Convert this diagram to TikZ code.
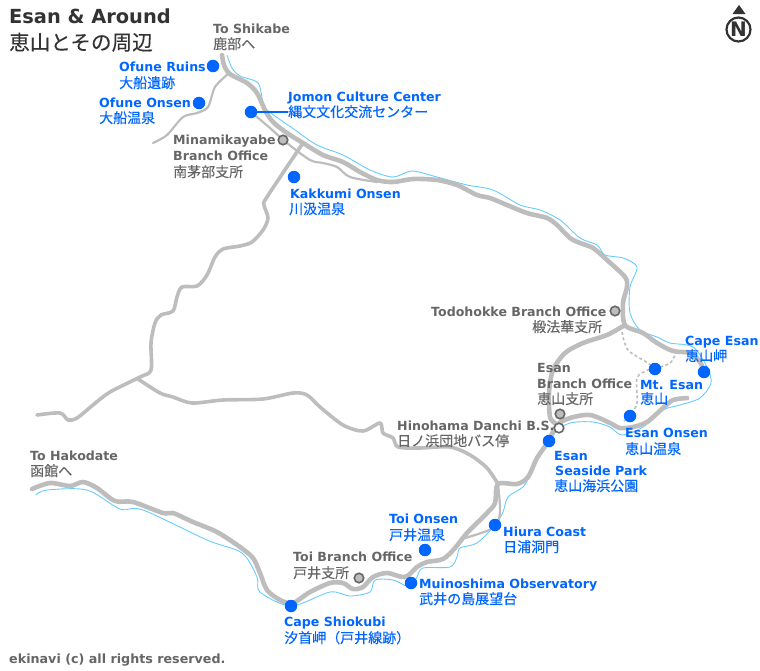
\documentclass[tikz,border=0pt]{standalone}
\usepackage{fontspec}
\setmainfont{DejaVu Sans}
\newfontfamily\jpfont[FakeBold=0.25]{Noto Sans CJK JP}
\definecolor{roadgray}{HTML}{BDBDBD}
\definecolor{coastblue}{HTML}{66CCFF}
\definecolor{spotblue}{HTML}{0066FF}
\definecolor{labelgray}{HTML}{666666}
\definecolor{titlegray}{HTML}{333333}
\tikzset{
  mainroad/.style={draw=roadgray,line width=4.6pt,line cap=round,line join=round},
  midroad/.style={draw=roadgray,line width=3.6pt,line cap=round,line join=round},
  thinroad/.style={draw=roadgray,line width=2.2pt,line cap=round,line join=round},
  trail/.style={draw=roadgray,line width=1.6pt,dash pattern=on 3pt off 2.5pt},
  coast/.style={draw=coastblue,line width=.9pt,line join=round},
  spot/.style={circle,fill=spotblue,minimum size=12.5pt,inner sep=0pt},
  office/.style={circle,fill=roadgray,draw=labelgray,line width=1.6pt,minimum size=9.5pt,inner sep=0pt},
  stopmark/.style={circle,fill=white,draw=labelgray,line width=1.6pt,minimum size=9.5pt,inner sep=0pt},
  bl/.style={anchor=base west,inner sep=0pt,text=spotblue,font=\fontsize{12.6}{12.6}\selectfont\bfseries},
  bj/.style={anchor=base west,inner sep=0pt,text=spotblue,font=\fontsize{14}{14}\selectfont\jpfont},
  gl/.style={anchor=base west,inner sep=0pt,text=labelgray,font=\fontsize{12.6}{12.6}\selectfont\bfseries},
  gj/.style={anchor=base west,inner sep=0pt,text=labelgray,font=\fontsize{14}{14}\selectfont\jpfont},
}
\begin{document}
\begin{tikzpicture}[x=1pt,y=-1pt]
\useasboundingbox (0,0) rectangle (760,670);
% coast
\draw[coast] plot[smooth,tension=.5] coordinates {(227,55)(232,68)(240,76)(258,83)(263,103)(267,110)(295,130)(317,145)(343,155)(370,170)(393,177)(412,171)(437,177)(467,185)(493,190)(520,205)(540,210)(560,220)(580,238)(597,245)(605,255)(623,258)(637,267)(630,287)(630,313)(640,330)(657,337)(670,343)(693,347)(707,367)(711,383)(700,398)(680,405)(663,410)(643,427)(622,435)(610,427)(593,422)(570,423)(555,433)(537,460)(530,475)(523,487)(508,497)(503,512)(495,525)(477,543)(460,548)(457,557)(450,567)(423,568)(417,577)(410,587)(393,580)(375,580)(370,592)(350,596)(330,592)(291,606)(260,592)(257,577)(242,553)(207,540)(143,510)(120,509)(87,490)(47,490)(36,495)};
% thin roads
\draw[thinroad] plot[smooth,tension=.5] coordinates {(228,74)(215,87)(208,107)(197,113)(183,117)(167,135)(153,143)};
\draw[thinroad] plot[smooth,tension=.5] coordinates {(251,112)(270,128)(287,143)(310,160)(323,163)(337,167)(350,177)(377,182)};
\draw[thinroad] plot[smooth,tension=.5] coordinates {(498,484)(500,513)(493,528)(465,538)};
% mid roads
\draw[midroad] plot[smooth,tension=.5] coordinates {(303,143)(267,197)(264,205)(268,218)(263,230)(252,242)(240,246)(223,249)(215,257)(207,275)(197,286)(182,287)(177,297)(173,311)(161,315)(155,323)(151,343)(151,370)(140,377)(110,392)(93,405)(77,418)(68,420)(60,413)(37,415)};
\draw[midroad] plot[smooth,tension=.5] coordinates {(138,379)(160,393)(173,397)(192,403)(223,400)(263,399)(293,393)(307,395)(320,407)(343,425)(363,431)(380,423)(383,433)(393,438)(398,447)(420,448)(450,447)(470,455)(487,468)(498,484)};
% main roads
\draw[mainroad] plot[smooth,tension=.5] coordinates {(222,55)(224,65)(230,74)(247,83)(257,93)(265,110)(273,122)(287,133)(303,143)(323,155)(343,162)(360,172)(377,180)(393,182)(413,179)(437,180)(457,185)(477,195)(490,198)(507,205)(527,213)(547,218)(557,225)(570,238)(580,243)(593,248)(607,260)(625,277)(627,287)(623,303)(625,325)(643,333)(657,343)(673,351)(690,353)(700,362)(704,372)};
\draw[mainroad] plot[smooth,tension=.5] coordinates {(625,325)(607,335)(583,343)(565,353)(553,370)(549,393)(550,417)(555,423)};
\draw[mainroad] plot[smooth,tension=.5] coordinates {(687,398)(673,400)(663,408)(647,422)(633,427)(620,428)(610,423)(590,415)(570,418)(557,425)(548,442)(537,458)(528,477)(517,484)(498,484)(495,503)(487,513)(467,533)(455,548)(443,559)(427,562)(417,567)(405,577)(387,573)(373,577)(363,587)(353,589)(343,583)(330,583)(310,592)(293,603)(280,600)(267,590)(260,573)(253,558)(240,547)(217,532)(193,522)(173,513)(163,513)(133,502)(115,501)(97,488)(83,482)(70,486)(50,483)(32,489)};
% trails
\draw[trail] plot[smooth,tension=.5] coordinates {(622,332)(628,350)(648,363)(655,369)};
\draw[trail] plot[smooth,tension=.5] coordinates {(655,369)(670,363)(675,355)};
\draw[trail] plot[smooth,tension=.5] coordinates {(655,369)(648,370)(637,378)(637,403)(630,416)(622,422)};
% spots
\node[spot] (ofuneruins) at (213,66) {};
\node[spot] (ofuneonsen) at (199,103) {};
\node[spot] (jomon) at (251,112) {};
\node[spot] (kakkumi) at (294,177) {};
\node[office] (minami) at (283,140) {};
\node[office] (todo) at (615,311) {};
\node[office] (esanbranch) at (560,414) {};
\node[stopmark] (hinohama) at (559,428) {};
\node[spot] (seaside) at (549,441) {};
\node[spot] (mtesan) at (655,369) {};
\node[spot] (capeesan) at (704,372) {};
\node[spot] (esanonsen) at (630,416) {};
\node[spot] (hiura) at (495,525) {};
\node[spot] (toionsen) at (425,550) {};
\node[office] (toibranch) at (359,578) {};
\node[spot] (muino) at (411,583) {};
\node[spot] (shiokubi) at (291,606) {};
% title
\node[anchor=base west,inner sep=0pt,text=titlegray,font=\fontsize{19.4}{19.4}\selectfont\bfseries] (title) at (9,23) {Esan \& Around};
\node[anchor=base west,inner sep=0pt,text=titlegray,font=\fontsize{20.6}{20.6}\selectfont\jpfont] (titlejp) at (9,50) {恵山とその周辺};
% labels
\node[gl] (t1) at (213,33) {To Shikabe};
\node[gj] (t2) at (213,49) {鹿部へ};
\node[bl] (t3) at (119,71) {Ofune Ruins};
\node[bj] (t4) at (119,88) {大船遺跡};
\node[bl] (t5) at (99,107) {Ofune Onsen};
\node[bj] (t6) at (99,123) {大船温泉};
\node[bl] (t7) at (288,101) {Jomon Culture Center};
\node[bj] (t8) at (288,117) {縄文文化交流センター};
\node[gl] (t9) at (173,144) {Minamikayabe};
\node[gl] (t10) at (173,160) {Branch Office};
\node[gj] (t11) at (173,177) {南茅部支所};
\node[bl] (t12) at (290,198) {Kakkumi Onsen};
\node[bj] (t13) at (289,214) {川汲温泉};
\node[gl] (t14) at (431,316) {Todohokke Branch Office};
\node[gj] (t15) at (532,332) {椴法華支所};
\node[gl] (t16) at (537,372) {Esan};
\node[gl] (t17) at (537,388) {Branch Office};
\node[gj] (t18) at (537,404) {恵山支所};
\node[gl] (t19) at (397,430) {Hinohama Danchi B.S.};
\node[gj] (t20) at (397,446) {日ノ浜団地バス停};
\node[bl] (t21) at (554,460) {Esan};
\node[bl] (t22) at (555,475) {Seaside Park};
\node[bj] (t23) at (554,491) {恵山海浜公園};
\node[bl] (t24) at (640,389) {Mt. Esan};
\node[bj] (t25) at (640,404) {恵山};
\node[bl] (t26) at (685,345) {Cape Esan};
\node[bj] (t27) at (685,361) {恵山岬};
\node[bl] (t28) at (625,437) {Esan Onsen};
\node[bj] (t29) at (625,454) {恵山温泉};
\node[bl] (t30) at (503,536) {Hiura Coast};
\node[bj] (t31) at (503,552) {日浦洞門};
\node[bl] (t32) at (389,523) {Toi Onsen};
\node[bj] (t33) at (389,540) {戸井温泉};
\node[gl] (t34) at (293,561) {Toi Branch Office};
\node[gj] (t35) at (293,578) {戸井支所};
\node[bl] (t36) at (419,588) {Muinoshima Observatory};
\node[bj] (t37) at (419,604) {武井の島展望台};
\node[bl] (t38) at (284,626) {Cape Shiokubi};
\node[bj] (t39) at (284,643) {汐首岬（戸井線跡）};
\node[gl] (t40) at (30,460) {To Hakodate};
\node[gj] (t41) at (30,476) {函館へ};
\node[anchor=base west,inner sep=0pt,text=labelgray,font=\fontsize{12.7}{12.7}\selectfont\bfseries] (t42) at (9,663) {ekinavi (c) all rights reserved.};
% connector
\draw[spotblue,line width=1.5pt] (jomon) -- (t8.west |- jomon);
% north mark
\fill[titlegray] (739,5) -- (732.5,14) -- (745.5,14) -- cycle;
\node[circle,draw=titlegray,line width=2.2pt,minimum size=24pt,inner sep=0pt,text=titlegray,font=\fontsize{20}{20}\selectfont\bfseries] (north) at (738.5,29.5) {N};
\end{tikzpicture}
\end{document}
